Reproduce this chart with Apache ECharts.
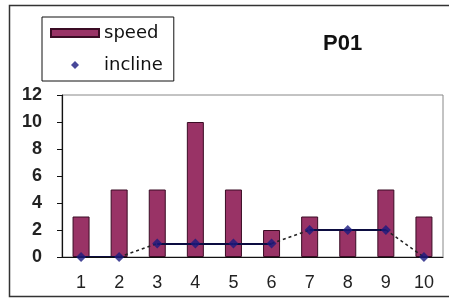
<!DOCTYPE html>
<html>
<head>
<meta charset="utf-8">
<script src="https://cdn.jsdelivr.net/npm/echarts@6/dist/echarts.min.js"></script>
<style>
    html, body { margin: 0; padding: 0; background: #fff; }
</style>
</head>
<body>
<div id="main" style="width: 449px;height:300px;"></div>
<script>
    // data
    var categories = ['1', '2', '3', '4', '5', '6', '7', '8', '9', '10'];
    var speed = [3, 5, 5, 10, 5, 2, 3, 2, 5, 3];
    var incline = [0, 0, 1, 1, 1, 1, 2, 2, 2, 0];
    var yTicks = [0, 2, 4, 6, 8, 10, 12];

    // segments of the incline line: solid where value stays, dashed where it changes
    var segments = [];
    for (var i = 0; i < incline.length - 1; i++) {
        var same = incline[i] === incline[i + 1];
        segments.push({
            coords: [[i, incline[i]], [i + 1, incline[i + 1]]],
            lineStyle: same
                ? { color: '#0c0c40', width: 1.8, type: 'solid', opacity: 1 }
                : { color: '#222', width: 1.5, type: [3, 3], opacity: 1 }
        });
    }

    // diamond padded to the 48x8 legend box so it is not stretched
    var legendDiamond = 'path://M0,4L0,4M20,4L24,0L28,4L24,8ZM48,4L48,4';

    var myChart = echarts.init(document.getElementById('main'));
    var option = {
        animation: false,
        textStyle: { fontFamily: 'Liberation Sans, Arial, sans-serif' },
        title: {
            text: 'P01',
            left: 323,
            top: 33,
            padding: 0,
            textStyle: { fontSize: 22, fontWeight: 'bold', color: '#111' }
        },
        legend: {
            orient: 'vertical',
            left: 42,
            top: 17,
            padding: [7, 11, 7, 8],
            borderColor: '#111',
            borderWidth: 1,
            itemWidth: 48,
            itemHeight: 8,
            itemGap: 14,
            textStyle: { fontSize: 18, fontFamily: 'DejaVu Sans', color: '#111' },
            data: [
                { name: 'speed', icon: 'rect' },
                { name: 'incline', icon: legendDiamond }
            ]
        },
        graphic: [{
            type: 'rect',
            shape: { x: 9.5, y: 5.5, width: 470, height: 291 },
            style: { fill: 'none', stroke: '#333', lineWidth: 1.5 },
            z: -1
        }],
        grid: {
            left: 62,
            right: 6,
            top: 95,
            bottom: 43,
            show: true,
            borderColor: '#888',
            borderWidth: 1
        },
        xAxis: {
            type: 'category',
            data: categories,
            axisLine: { lineStyle: { color: '#111', width: 1.2 } },
            axisTick: { length: 6, lineStyle: { color: '#111' } },
            axisLabel: { fontSize: 18, color: '#222', margin: 17 }
        },
        yAxis: {
            type: 'value',
            min: yTicks[0],
            max: yTicks[yTicks.length - 1],
            interval: 2,
            splitLine: { show: false },
            axisLine: { show: true, lineStyle: { color: '#111', width: 1.2 } },
            axisTick: { show: true, length: 5, lineStyle: { color: '#111' } },
            axisLabel: { fontSize: 18, fontWeight: 'bold', color: '#222', margin: 20 }
        },
        series: [
            {
                name: 'speed',
                type: 'bar',
                barWidth: 17,
                data: speed,
                itemStyle: { color: '#993366', borderColor: '#3a0c24', borderWidth: 1 }
            },
            {
                name: 'incline-line',
                type: 'lines',
                coordinateSystem: 'cartesian2d',
                polyline: false,
                symbol: 'none',
                z: 3,
                data: segments
            },
            {
                name: 'incline',
                type: 'scatter',
                symbol: 'diamond',
                symbolSize: 10,
                z: 4,
                data: incline,
                itemStyle: { color: '#1a1a80' }
            }
        ]
    };
    myChart.setOption(option);
</script>
</body>
</html>
